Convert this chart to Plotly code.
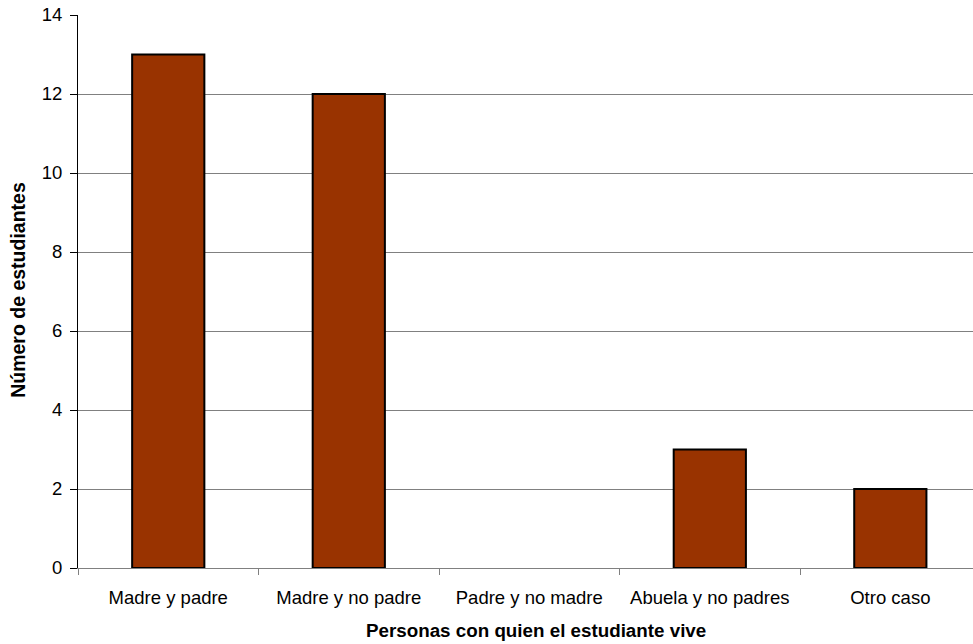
import plotly.graph_objects as go

# Household arrangement of students
categorias = ["Madre y padre", "Madre y no padre", "Padre y no madre",
              "Abuela y no padres", "Otro caso"]
estudiantes = [13, 12, 0, 3, 2]
y_ticks = [0, 2, 4, 6, 8, 10, 12, 14]

FONT = "Arial, 'Liberation Sans', sans-serif"

# zero-height bars get no outline so nothing shows on the axis
line_widths = [2 if v > 0 else 0 for v in estudiantes]

fig = go.Figure(
    go.Bar(
        x=categorias,
        y=estudiantes,
        marker=dict(color="#993300", line=dict(color="black", width=line_widths)),
        width=0.4,
        hoverinfo="x+y",
    )
)

fig.update_layout(
    width=973,
    height=644,
    margin=dict(l=78, r=0, t=15, b=76),
    paper_bgcolor="white",
    plot_bgcolor="white",
    showlegend=False,
    font=dict(family=FONT, size=18.5, color="black"),
    xaxis=dict(
        type="category",
        range=[-0.5, 4.458],
        tickson="boundaries",
        ticks="outside",
        ticklen=6,
        tickcolor="#808080",
        showline=True,
        linecolor="#808080",
        linewidth=1,
        showgrid=False,
        tickfont=dict(size=18.5),
        ticklabelstandoff=13,
    ),
    yaxis=dict(
        range=[0, 14],
        tickvals=y_ticks,
        ticks="outside",
        ticklen=7,
        tickcolor="black",
        showline=True,
        linecolor="black",
        linewidth=1,
        showgrid=True,
        gridcolor="#808080",
        gridwidth=1,
        zeroline=False,
        tickfont=dict(size=18.5),
        ticklabelstandoff=4,
    ),
    annotations=[
        dict(
            text="<b>Personas con quien el estudiante vive</b>",
            xref="paper", yref="paper",
            x=0.512, y=0,
            xanchor="center", yanchor="middle",
            yshift=-62,
            showarrow=False,
            font=dict(size=18.8, family=FONT),
        ),
        dict(
            text="<b>Número de estudiantes</b>",
            xref="paper", yref="paper",
            x=0, y=0.503,
            xanchor="center", yanchor="middle",
            xshift=-60,
            textangle=-90,
            showarrow=False,
            font=dict(size=19.5, family=FONT),
        ),
    ],
)

fig.write_html("out.html")
